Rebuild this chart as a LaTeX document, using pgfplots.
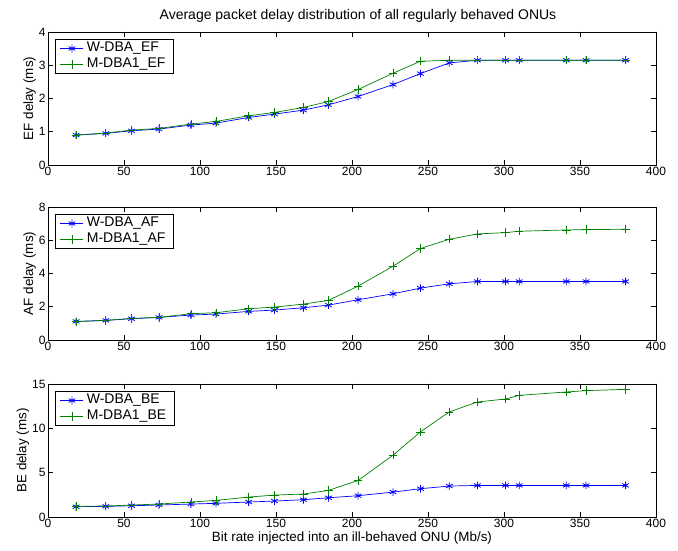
\documentclass[border=0pt]{standalone}
\usepackage{pgfplots}
\pgfplotsset{compat=1.18}
\usepackage{pgfplotstable}
\usepackage{fontspec}
\setmainfont{Liberation Sans}
\definecolor{mblue}{RGB}{0,0,255}
\definecolor{mgreen}{RGB}{0,128,0}

\pgfplotstableread{
x     wef   mef   waf   maf   wbe   mbe
18.5  0.90  0.90  1.12  1.10  1.16  1.20
38    0.95  0.96  1.18  1.18  1.20  1.24
55    1.03  1.05  1.28  1.30  1.27  1.35
73    1.08  1.10  1.36  1.36  1.35  1.46
94    1.20  1.23  1.50  1.58  1.46  1.69
110.5 1.26  1.31  1.56  1.64  1.54  1.87
132   1.43  1.48  1.72  1.88  1.69  2.25
149   1.53  1.58  1.80  1.98  1.80  2.47
168   1.65  1.73  1.94  2.16  1.95  2.59
184.5 1.81  1.91  2.10  2.38  2.17  3.00
204   2.06  2.27  2.42  3.24  2.40  4.12
227   2.42  2.76  2.78  4.44  2.81  6.97
245   2.75  3.12  3.12  5.50  3.19  9.60
264   3.07  3.15  3.38  6.06  3.49  11.85
282.5 3.15  3.15  3.52  6.38  3.56  12.97
301   3.15  3.15  3.52  6.46  3.56  13.31
310   3.15  3.15  3.52  6.54  3.56  13.72
341   3.15  3.15  3.52  6.62  3.56  14.10
354   3.15  3.15  3.52  6.64  3.56  14.25
380   3.15  3.15  3.52  6.66  3.56  14.40
}\datatable

\pgfplotsset{
  mstyle/.style={
    width=608pt, height=133pt, scale only axis,
    xmin=0, xmax=400, xtick={0,50,...,400},
    tick align=inside, tick pos=both,
    major tick length=5pt,
    axis line style={line width=0.9pt},
    every tick/.style={black, line width=0.5pt},
    tick label style={font=\fontsize{12}{14}\selectfont},
    xticklabel style={yshift=1pt},
    yticklabel style={xshift=1pt},
    label style={font=\fontsize{13.4}{15}\selectfont},
    /pgf/number format/assume math mode=true,
    legend style={font=\fontsize{14}{14}\selectfont, line width=0.9pt,
      inner xsep=5pt, inner ysep=1pt, row sep=0pt,
      nodes={inner ysep=1.5pt, inner xsep=3pt, text height=10pt, text depth=3pt},
      at={(0.011,0.947)}, anchor=north west},
    legend cell align=left,
    legend image code/.code={\draw[##1] (0pt,0pt) -- (11.5pt,0pt) -- (23pt,0pt); \draw[##1, only marks] plot coordinates {(11.5pt,0pt)};},
    ylabel shift=-4pt,
  },
  wline/.style={color=mblue, draw=mblue, line width=0.7pt, mark=asterisk, mark size=3.8pt, mark options={draw=mblue, line width=0.8pt}},
  mline/.style={color=mgreen, draw=mgreen, line width=0.7pt, mark=+, mark size=4.2pt, mark options={draw=mgreen, line width=0.7pt}},
}

\begin{document}
\begin{tikzpicture}[x=1pt,y=1pt]
\useasboundingbox (0,0) rectangle (678,551);
\begin{axis}[mstyle, at={(48pt,386pt)}, anchor=south west,
  ymin=0, ymax=4, ytick={0,1,2,3,4},
  ylabel={EF delay (ms)},
  title={Average packet delay distribution of all regularly behaved ONUs},
  title style={font=\fontsize{14}{16}\selectfont, xshift=6pt}]
\addplot[wline] table[x=x,y=wef]{\datatable};
\addplot[mline] table[x=x,y=mef]{\datatable};
\legend{W-DBA\_EF, M-DBA1\_EF}
\end{axis}
\begin{axis}[mstyle, at={(48pt,211pt)}, anchor=south west,
  ymin=0, ymax=8, ytick={0,2,4,6,8},
  ylabel={AF delay (ms)}]
\addplot[wline] table[x=x,y=waf]{\datatable};
\addplot[mline] table[x=x,y=maf]{\datatable};
\legend{W-DBA\_AF, M-DBA1\_AF}
\end{axis}
\begin{axis}[mstyle, at={(48pt,34pt)}, anchor=south west,
  ymin=0, ymax=15, ytick={0,5,10,15},
  ylabel={BE delay (ms)},
  xlabel={Bit rate injected into an ill-behaved ONU (Mb/s)},
  xlabel style={yshift=3pt}]
\addplot[wline] table[x=x,y=wbe]{\datatable};
\addplot[mline] table[x=x,y=mbe]{\datatable};
\legend{W-DBA\_BE, M-DBA1\_BE}
\end{axis}
\end{tikzpicture}
\end{document}
